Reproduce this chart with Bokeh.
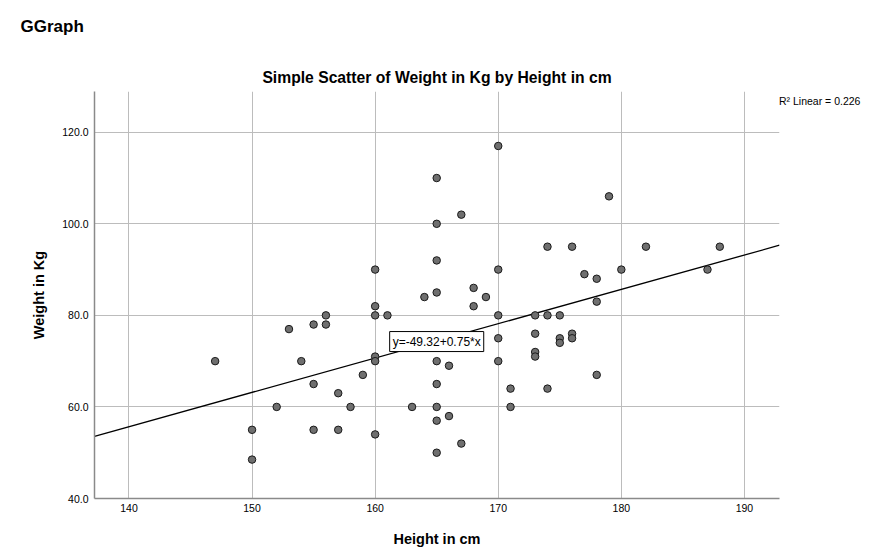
from bokeh.plotting import figure
from bokeh.models import (Range1d, FixedTicker, Label, NumeralTickFormatter, ColumnDataSource,
                          Title, Legend, LegendItem)
from bokeh.embed import file_html
from bokeh.resources import INLINE

# Data
height_cm = [170, 165, 167, 165, 179, 174, 176, 182, 188, 165, 160, 170, 177, 178, 180, 187,
             168, 168, 165, 164, 169, 178, 160, 160, 161, 156, 170, 173, 174, 175, 155, 156,
             153, 170, 173, 175, 175, 176, 176, 173, 173, 160, 160, 147, 154, 165, 166, 170,
             159, 178, 155, 165, 171, 174, 157, 152, 158, 163, 165, 171, 166, 165, 150, 155,
             157, 160, 167, 165, 150]
weight_kg = [117, 110, 102, 100, 106, 95, 95, 95, 95, 92, 90, 90, 89, 88, 90, 90,
             86, 82, 85, 84, 84, 83, 82, 80, 80, 80, 80, 80, 80, 80, 78, 78,
             77, 75, 76, 75, 74, 76, 75, 72, 71, 71, 70, 70, 70, 70, 69, 70,
             67, 67, 65, 65, 64, 64, 63, 60, 60, 60, 60, 60, 58, 57, 55, 55,
             55, 54, 52, 50, 48.5]

intercept = -49.32
slope = 0.75
r2_linear = 0.226

x_ticks = [140, 150, 160, 170, 180, 190]
y_ticks = [40, 60, 80, 100, 120]

heading_text = "GGraph"
title_text = "Simple Scatter of Weight in Kg by Height in cm"
x_label = "Height in cm"
y_label = "Weight in Kg"

FONT = "Liberation Sans"
x0, x1 = 137.2, 192.85
y0, y1 = 40.0, 128.9

p = figure(width=870, height=545, output_backend="svg", toolbar_location=None,
           x_range=Range1d(x0, x1), y_range=Range1d(y0, y1),
           frame_width=685, frame_height=407, title_location=None,
           min_border_left=94, min_border_right=91, min_border_top=91, min_border_bottom=47)
p.outline_line_color = None
p.background_fill_color = "white"
p.border_fill_color = "white"

for ax in (p.xaxis[0], p.yaxis[0]):
    ax.major_tick_in = 0
    ax.major_tick_out = 0
    ax.minor_tick_in = 0
    ax.minor_tick_out = 0
    ax.axis_line_color = "#8a8a8a"
    ax.axis_line_width = 1.5
    ax.major_label_text_font = FONT
    ax.major_label_text_font_size = "10.5px"
    ax.major_label_text_color = "#000000"
    ax.axis_label_text_font = FONT
    ax.axis_label_text_font_size = "14.5px"
    ax.axis_label_text_font_style = "bold"
    ax.axis_label_text_color = "#000000"
p.xaxis[0].ticker = FixedTicker(ticks=x_ticks)
p.yaxis[0].ticker = FixedTicker(ticks=y_ticks)
p.yaxis[0].formatter = NumeralTickFormatter(format="0.0")
p.xaxis[0].major_label_standoff = 5
p.yaxis[0].major_label_standoff = 6
p.xaxis[0].axis_label = x_label
p.yaxis[0].axis_label = y_label
p.xaxis[0].axis_label_standoff = 16
p.yaxis[0].axis_label_standoff = 12

p.xgrid.ticker = FixedTicker(ticks=x_ticks)
p.ygrid.ticker = FixedTicker(ticks=y_ticks)
for g in (p.xgrid[0], p.ygrid[0]):
    g.grid_line_color = "#bcbcbc"
    g.grid_line_width = 1

# Fit line across the full x range
lx = [x0, x1]
ly = [intercept + slope * v for v in lx]
p.line(lx, ly, line_color="black", line_width=1.3)

src = ColumnDataSource(dict(x=height_cm, y=weight_kg))
p.scatter("x", "y", source=src, size=7.5, fill_color="#6f6f6f", line_color="#1a1a1a",
          line_width=1)

# Equation label
eq = Label(x=165.0, y=74.28, text=f"y={intercept:.2f}+{slope:.2f}*x",
           text_font=FONT, text_font_size="12px", text_align="center",
           text_baseline="middle", text_color="black",
           background_fill_color="white", border_line_color="black",
           border_line_width=1, padding=3)
p.add_layout(eq)

# Titles (first added sits closest to the frame)
t_main = Title(text=title_text, align="center", text_font=FONT, text_font_size="15.7px",
               text_font_style="bold", text_color="black", standoff=11)
p.add_layout(t_main, "above")
t_head = Title(text=heading_text + "\n ", align="left", vertical_align="top", offset=-74,
               text_font=FONT, text_font_size="17px", text_font_style="bold",
               text_color="black", standoff=9)
p.add_layout(t_head, "above")

# R2 annotation to the right of the frame
r2_item = LegendItem(label=f"R\u00b2 Linear = {r2_linear:.3f}")
leg = Legend(items=[r2_item], location="top_left", margin=0, padding=0, spacing=0,
             glyph_width=0, glyph_height=19, label_height=19, label_standoff=0,
             label_text_font=FONT, label_text_font_size="10.5px", label_text_color="black",
             border_line_color=None, background_fill_alpha=0)
p.add_layout(leg, "right")

open("out.html", "w").write(file_html(p, INLINE))
